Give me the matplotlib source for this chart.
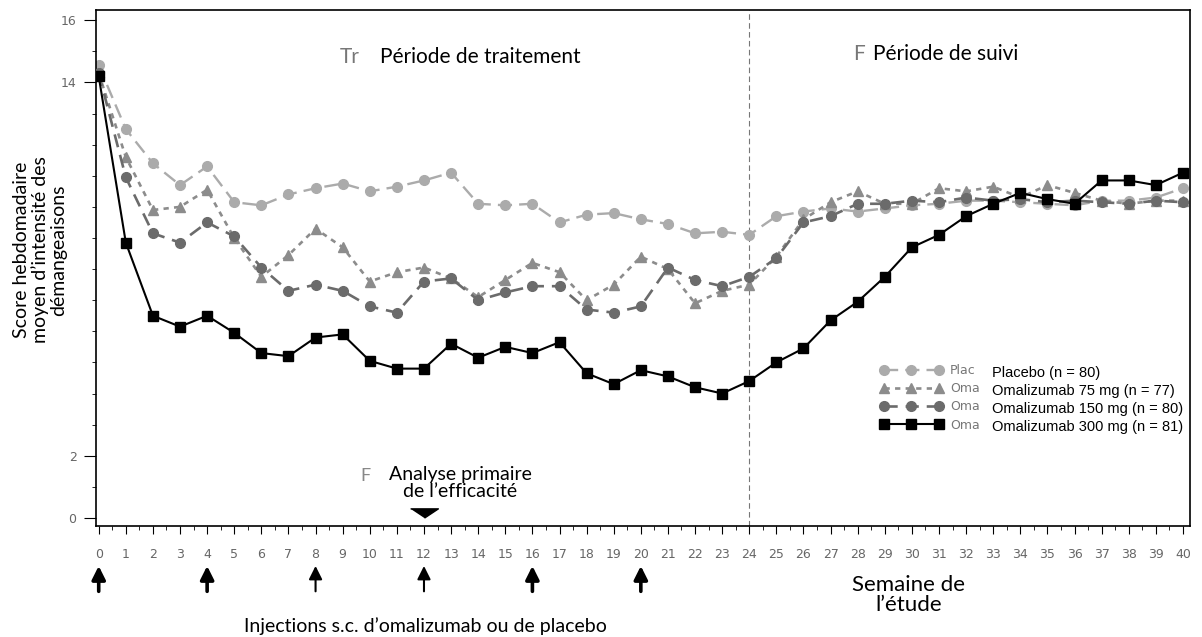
import matplotlib.pyplot as plt
import matplotlib.ticker as mticker

# weekly mean itch severity score, weeks 0..40
weeks = list(range(41))
placebo = [14.55, 12.5, 11.4, 10.7, 11.3, 10.15, 10.05, 10.4, 10.6, 10.75, 10.5, 10.65, 10.85, 11.1,
           10.1, 10.05, 10.1, 9.5, 9.75, 9.8, 9.6, 9.45, 9.15, 9.2, 9.1, 9.7, 9.85, 9.95, 9.85, 9.95,
           10.05, 10.1, 10.2, 10.2, 10.15, 10.1, 10.05, 10.2, 10.2, 10.3, 10.6]
omal_75 = [14.3, 11.6, 9.9, 10.0, 10.55, 9.0, 7.75, 8.45, 9.3, 8.7, 7.6, 7.9, 8.05, 7.7,
           7.1, 7.65, 8.2, 7.9, 7.0, 7.5, 8.4, 8.0, 6.9, 7.3, 7.5, 8.4, 9.6, 10.15, 10.5, 10.1,
           10.1, 10.6, 10.5, 10.65, 10.3, 10.7, 10.45, 10.2, 10.1, 10.2, 10.2]
omal_150 = [14.3, 10.95, 9.15, 8.85, 9.5, 9.05, 8.05, 7.3, 7.5, 7.3, 6.8, 6.6, 7.6, 7.7,
            7.0, 7.25, 7.45, 7.45, 6.7, 6.6, 6.8, 8.05, 7.65, 7.45, 7.75, 8.35, 9.5, 9.7, 10.1, 10.1,
            10.2, 10.15, 10.3, 10.2, 10.25, 10.15, 10.2, 10.15, 10.1, 10.2, 10.15]
omal_300 = [14.2, 8.85, 6.5, 6.15, 6.5, 5.95, 5.3, 5.2, 5.8, 5.9, 5.05, 4.8, 4.8, 5.6,
            5.15, 5.5, 5.3, 5.65, 4.65, 4.3, 4.75, 4.55, 4.2, 4.0, 4.4, 5.0, 5.45, 6.35, 6.95, 7.75,
            8.7, 9.1, 9.7, 10.1, 10.45, 10.25, 10.1, 10.85, 10.85, 10.7, 11.1]

legend_labels = ["Placebo (n = 80)", "Omalizumab 75 mg (n = 77)",
                 "Omalizumab 150 mg (n = 80)", "Omalizumab 300 mg (n = 81)"]
old_labels = ["Plac", "Oma", "Oma", "Oma"]
injection_weeks = [0, 4, 8, 12, 16, 20]
thick_arrows = [0, 4, 16, 20]
y_ticks = [0, 2, 14, 16]
end_treatment = 24
primary_week = 12

W, H = 1202, 637
FONT = ['Lato', 'DejaVu Sans']


def fx(x):
    return x / W


def fy(y):
    return 1 - y / H


fig = plt.figure(figsize=(W / 100, H / 100), dpi=100)
ax = fig.add_axes([fx(96), fy(526), (1190 - 96) / W, (526 - 10) / H])

ax.plot(weeks, placebo, color='#ababab', ls=(0, (6, 3)), lw=1.7, marker='o', ms=7, zorder=2)
ax.plot(weeks, omal_75, color='#8c8c8c', ls=(0, (2, 2)), lw=1.9, marker='^', ms=7, zorder=3)
ax.plot(weeks, omal_150, color='#6b6b6b', ls=(0, (5, 3)), lw=1.9, marker='o', ms=7, zorder=4)
ax.plot(weeks, omal_300, color='black', lw=1.5, marker='s', ms=6.5, zorder=5)
lines = ax.get_lines()

ax.axvline(end_treatment, color='#777777', lw=0.8, ls=(0, (5, 3)), zorder=1)

# primary efficacy marker
tri = [(-1.5, 0.5), (1.5, 0.5), (0, -0.5)]
ax.plot([primary_week], [0.16], marker=tri, ms=20, color='black', ls='none', clip_on=False)

ax.set_xlim(-0.1, 40.26)
ax.set_ylim(-0.26, 16.33)
ax.set_xticks(weeks)
ax.xaxis.set_minor_locator(mticker.MultipleLocator(0.5))
ax.set_yticks(y_ticks)
ax.yaxis.set_minor_locator(mticker.MultipleLocator(1))
ax.tick_params(axis='x', which='major', length=6, pad=10, labelsize=9, labelcolor='#666666')
ax.tick_params(axis='x', which='minor', length=3)
ax.tick_params(axis='y', which='major', length=9, pad=5, labelsize=9, labelcolor='#666666')
ax.tick_params(axis='y', which='minor', length=3)
for s in ax.spines.values():
    s.set_linewidth(1.2)

# injection arrows below the axis
for w in injection_weeks:
    lw = 2.6 if w in thick_arrows else 1.5
    ax.annotate('', xy=(w, -0.072), xytext=(w, -0.132), xycoords=('data', 'axes fraction'),
                textcoords=('data', 'axes fraction'), annotation_clip=False,
                arrowprops=dict(arrowstyle='-|>', lw=lw, color='black', mutation_scale=20))

# old (grey) legend, partly hidden by the translated labels
leg = ax.legend(lines, old_labels, loc='upper left', bbox_to_anchor=(fx(880), fy(364)),
                bbox_transform=fig.transFigure, frameon=False, fontsize=9, numpoints=3,
                handlelength=5.0, handletextpad=0.6, labelspacing=0.42, borderpad=0,
                borderaxespad=0)
for t in leg.get_texts():
    t.set_color('#777777')

for i, lab in enumerate(legend_labels):
    fig.text(fx(992), fy(373 + 18 * i), lab, fontsize=10.5, family='Liberation Sans',
             va='center', ha='left', bbox=dict(fc='white', ec='none', pad=0.6))

# period headers (with leftovers of the old labels)
fig.text(fx(340), fy(57), 'Tr', fontsize=15, family=FONT, color='#777777', va='center')
fig.text(fx(380), fy(57), 'Période de traitement', fontsize=15, family=FONT, va='center',
         bbox=dict(fc='white', ec='none', pad=2))
fig.text(fx(853), fy(54), 'F', fontsize=15, family=FONT, color='#777777', va='center')
fig.text(fx(873), fy(54), 'Période de suivi', fontsize=15, family=FONT, va='center',
         bbox=dict(fc='white', ec='none', pad=3))

fig.text(fx(360), fy(476), 'F', fontsize=13, family=FONT, color='#888888', va='center')
fig.text(fx(460), fy(483), 'Analyse primaire\nde l’efficacité', fontsize=14, family=FONT,
         ha='center', va='center', linespacing=1.05, bbox=dict(fc='white', ec='none', pad=1))

fig.text(fx(40), fy(250), 'Score hebdomadaire\nmoyen d’intensité des\ndémangeaisons',
         rotation=90, fontsize=14, family=FONT, ha='center', va='center', linespacing=1.05)

fig.text(fx(425), fy(626), 'Injections s.c. d’omalizumab ou de placebo', fontsize=14,
         family=FONT, ha='center', va='center')
fig.text(fx(909), fy(595), 'Semaine de\nl’étude', fontsize=16, family=FONT,
         ha='center', va='center', linespacing=1.05)

fig.savefig('out.png', dpi=100)
